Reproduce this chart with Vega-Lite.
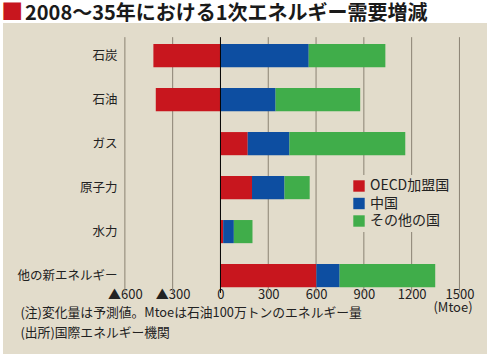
{
  "$schema": "https://vega.github.io/schema/vega-lite/v6.json",
  "width": 484,
  "height": 331,
  "autosize": {"type": "none"},
  "padding": {"left": 3, "top": 23, "right": 3, "bottom": 4},
  "background": "#ffffff",
  "config": {
    "font": "Noto Sans CJK JP",
    "view": {"fill": "#e2dccb", "stroke": null}
  },
  "title": {
    "text": "2008～35年における1次エネルギー需要増減",
    "font": "Noto Sans CJK JP",
    "fontSize": 20,
    "fontWeight": "bold",
    "color": "#1a1a1a",
    "anchor": "start",
    "frame": "group",
    "dx": 22,
    "offset": -23.5
  },
  "layer": [
    {
      "data": {
        "values": [
          {"tick": -600}, {"tick": -300}, {"tick": 300},
          {"tick": 600}, {"tick": 900}, {"tick": 1200}, {"tick": 1500}
        ]
      },
      "mark": {"type": "rule", "strokeWidth": 1, "color": "#8a8273"},
      "encoding": {
        "x": {"field": "tick", "type": "quantitative", "axis": null},
        "y": {"datum": "石炭", "type": "nominal", "bandPosition": -0.3},
        "y2": {"datum": "他の新エネルギー", "bandPosition": 1.25}
      }
    },
    {
      "data": {
        "values": [
          {"energy": "石炭", "region": "OECD加盟国", "value": -421},
          {"energy": "石炭", "region": "中国", "value": 554},
          {"energy": "石炭", "region": "その他の国", "value": 481},
          {"energy": "石油", "region": "OECD加盟国", "value": -406},
          {"energy": "石油", "region": "中国", "value": 346},
          {"energy": "石油", "region": "その他の国", "value": 531},
          {"energy": "ガス", "region": "OECD加盟国", "value": 171},
          {"energy": "ガス", "region": "中国", "value": 262},
          {"energy": "ガス", "region": "その他の国", "value": 727},
          {"energy": "原子力", "region": "OECD加盟国", "value": 198},
          {"energy": "原子力", "region": "中国", "value": 204},
          {"energy": "原子力", "region": "その他の国", "value": 158},
          {"energy": "水力", "region": "OECD加盟国", "value": 17},
          {"energy": "水力", "region": "中国", "value": 67},
          {"energy": "水力", "region": "その他の国", "value": 117},
          {"energy": "他の新エネルギー", "region": "OECD加盟国", "value": 602},
          {"energy": "他の新エネルギー", "region": "中国", "value": 146},
          {"energy": "他の新エネルギー", "region": "その他の国", "value": 600}
        ]
      },
      "transform": [
        {"calculate": "indexof(['OECD加盟国','中国','その他の国'], datum.region)", "as": "stackOrder"}
      ],
      "layer": [
        {
          "mark": {"type": "bar"},
          "encoding": {
            "y": {
              "field": "energy",
              "type": "nominal",
              "sort": ["石炭", "石油", "ガス", "原子力", "水力", "他の新エネルギー"],
              "scale": {"paddingInner": 0.474, "paddingOuter": 1.196, "align": 0.24, "round": false},
              "axis": {
                "orient": "left",
                "offset": -117,
                "domain": false,
                "ticks": false,
                "grid": false,
                "labelPadding": 3,
                "labelFontSize": 12.5,
                "labelColor": "#222222",
                "title": "■",
                "titleColor": "#c8161e",
                "titleFontSize": 22,
                "titleFontWeight": "normal",
                "titleAngle": 0,
                "titleX": -108.3,
                "titleY": -11.5,
                "titleAlign": "center",
                "titleBaseline": "middle"
              }
            },
            "x": {
              "field": "value",
              "type": "quantitative",
              "stack": "zero",
              "scale": {"domain": [-1365, 1673], "nice": false, "zero": false},
              "axis": {
                "orient": "top",
                "offset": -261,
                "values": [1500],
                "labels": false,
                "domain": false,
                "grid": false,
                "ticks": false,
                "title": "(Mtoe)",
                "titleFontSize": 13,
                "titleFontWeight": "normal",
                "titleColor": "#222222",
                "titleX": 449.5,
                "titleY": 23.5,
                "titleAlign": "center",
                "titleBaseline": "middle"
              }
            },
            "color": {
              "field": "region",
              "type": "nominal",
              "scale": {
                "domain": ["OECD加盟国", "中国", "その他の国"],
                "range": ["#c8161e", "#0d4ea1", "#40ad4a"]
              },
              "legend": {
                "orient": "none",
                "legendX": 345,
                "legendY": 152,
                "title": null,
                "padding": 4,
                "fillColor": "#e2dccb",
                "symbolType": "square",
                "symbolSize": 130,
                "symbolStrokeWidth": 0,
                "symbolOpacity": 1,
                "labelFontSize": 14,
                "labelColor": "#222222",
                "labelOffset": 4,
                "rowPadding": 3.5
              }
            },
            "order": {"field": "stackOrder", "type": "quantitative"}
          }
        },
        {
          "mark": {"type": "point", "opacity": 0},
          "encoding": {
            "x": {
              "field": "value",
              "type": "quantitative",
              "axis": {
                "orient": "bottom",
                "offset": -70,
                "values": [-600, -300, 0, 300, 600, 900, 1200, 1500],
                "labelExpr": "datum.value < 0 ? '▲' + format(-datum.value, 'd') : format(datum.value, 'd')",
                "domain": false,
                "ticks": false,
                "tickSize": 0,
                "grid": false,
                "labelPadding": 4,
                "labelFontSize": 13,
                "labelColor": "#222222",
                "title": ["(注)変化量は予測値。Mtoeは石油100万トンのエネルギー量", "(出所)国際エネルギー機関"],
                "titleFontSize": 12.8,
                "titleFontWeight": "normal",
                "titleColor": "#222222",
                "titleX": 17,
                "titleY": 22,
                "titleAlign": "left",
                "titleBaseline": "top",
                "titleLineHeight": 20.5
              }
            }
          }
        }
      ],
      "resolve": {"axis": {"x": "independent"}}
    },
    {
      "data": {"values": [{"tick": 0}]},
      "mark": {"type": "rule", "strokeWidth": 1, "color": "#000000"},
      "encoding": {
        "x": {"field": "tick", "type": "quantitative", "axis": null},
        "y": {"datum": "石炭", "type": "nominal", "bandPosition": -0.3},
        "y2": {"datum": "他の新エネルギー", "bandPosition": 1.25}
      }
    }
  ]
}
